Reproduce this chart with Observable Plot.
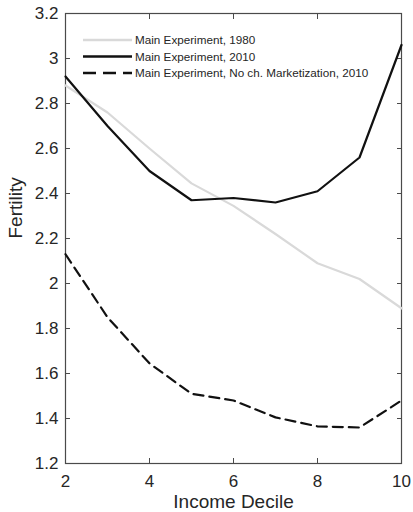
<!DOCTYPE html>
<html>
<head>
<meta charset="utf-8">
<script src="https://cdn.jsdelivr.net/npm/d3@7"></script>
<script src="https://cdn.jsdelivr.net/npm/@observablehq/plot@0.6"></script>
<style>
  html, body { margin: 0; padding: 0; background: #fff; }
  #chart { width: 413px; height: 512px; }
  svg { font-family: "Liberation Sans", Arial, sans-serif; }
</style>
</head>
<body>
<div id="chart"></div>
<script>
const deciles = [2, 3, 4, 5, 6, 7, 8, 9, 10];
const main1980 = [2.88, 2.76, 2.60, 2.445, 2.345, 2.22, 2.09, 2.02, 1.89];
const main2010 = [2.92, 2.70, 2.50, 2.37, 2.38, 2.36, 2.41, 2.56, 3.06];
const noMarket2010 = [2.13, 1.85, 1.645, 1.51, 1.48, 1.405, 1.365, 1.36, 1.48];
const seriesNames = [
  "Main Experiment, 1980",
  "Main Experiment, 2010",
  "Main Experiment, No ch. Marketization, 2010"
];
const xTicks = [2, 4, 6, 8, 10];
const yTicks = [1.2, 1.4, 1.6, 1.8, 2, 2.2, 2.4, 2.6, 2.8, 3, 3.2];
const xLabel = "Income Decile";
const yLabel = "Fertility";

const styles = [
  {stroke: "#d9d9d9", strokeWidth: 2.2, dash: null},
  {stroke: "#111111", strokeWidth: 2.2, dash: null},
  {stroke: "#111111", strokeWidth: 2.2, dash: "10,6"}
];
const seriesValues = [main1980, main2010, noMarket2010];
const rows = seriesValues.flatMap((vals, s) =>
  deciles.map((d, i) => ({series: seriesNames[s], x: d, y: vals[i]})));

const axisColor = "#4a4a4a";
const textColor = "#262626";

const plot = Plot.plot({
  width: 413,
  height: 512,
  marginLeft: 65,
  marginRight: 12,
  marginTop: 13,
  marginBottom: 49,
  style: {fontFamily: "Liberation Sans, Arial, sans-serif", color: textColor, background: "#fff"},
  x: {domain: [2, 10]},
  y: {domain: [1.2, 3.2]},
  marks: [
    Plot.frame({stroke: axisColor, strokeWidth: 1.2}),
    Plot.axisX(xTicks, {anchor: "bottom", tickSize: -5, tickPadding: 16, fontSize: 17, label: null, stroke: axisColor, fill: textColor, tickFormat: d3.format("")}),
    Plot.axisX(xTicks, {anchor: "top", tickSize: -5, text: null, label: null, stroke: axisColor}),
    Plot.axisY(yTicks, {anchor: "left", tickSize: -5, tickPadding: 12, fontSize: 17, label: null, stroke: axisColor, fill: textColor, tickFormat: d3.format("")}),
    Plot.axisY(yTicks, {anchor: "right", tickSize: -5, text: null, label: null, stroke: axisColor}),
    ...seriesNames.map((name, s) => Plot.line(rows.filter(r => r.series === name), {
      x: "x", y: "y",
      stroke: styles[s].stroke,
      strokeWidth: styles[s].strokeWidth,
      strokeDasharray: styles[s].dash,
      strokeLinejoin: "round"
    })),
    Plot.text([xLabel], {frameAnchor: "bottom", lineAnchor: "middle", dy: 38, fontSize: 19, fill: textColor}),
    Plot.text([yLabel], {frameAnchor: "left", lineAnchor: "middle", dx: -49.5, rotate: -90, fontSize: 19, fill: textColor})
  ]
});

document.getElementById("chart").appendChild(plot);

// Legend (upper-left, inside the plot area, no box)
const svg = d3.select(plot);
const lg = svg.append("g").attr("class", "legend").attr("text-anchor", "start");
const legendX0 = 83, legendX1 = 132, legendTextX = 135, legendY0 = 40, legendDy = 16.5;
seriesNames.forEach((name, s) => {
  const y = legendY0 + s * legendDy;
  lg.append("line")
    .attr("x1", legendX0).attr("x2", legendX1)
    .attr("y1", y).attr("y2", y)
    .attr("stroke", styles[s].stroke)
    .attr("stroke-width", styles[s].strokeWidth + 0.3)
    .attr("stroke-dasharray", styles[s].dash ? "13,7" : null);
  lg.append("text")
    .attr("x", legendTextX).attr("y", y)
    .attr("dy", "0.35em")
    .attr("text-anchor", "start")
    .attr("font-size", 11.7)
    .attr("fill", textColor)
    .text(name);
});
</script>
</body>
</html>
